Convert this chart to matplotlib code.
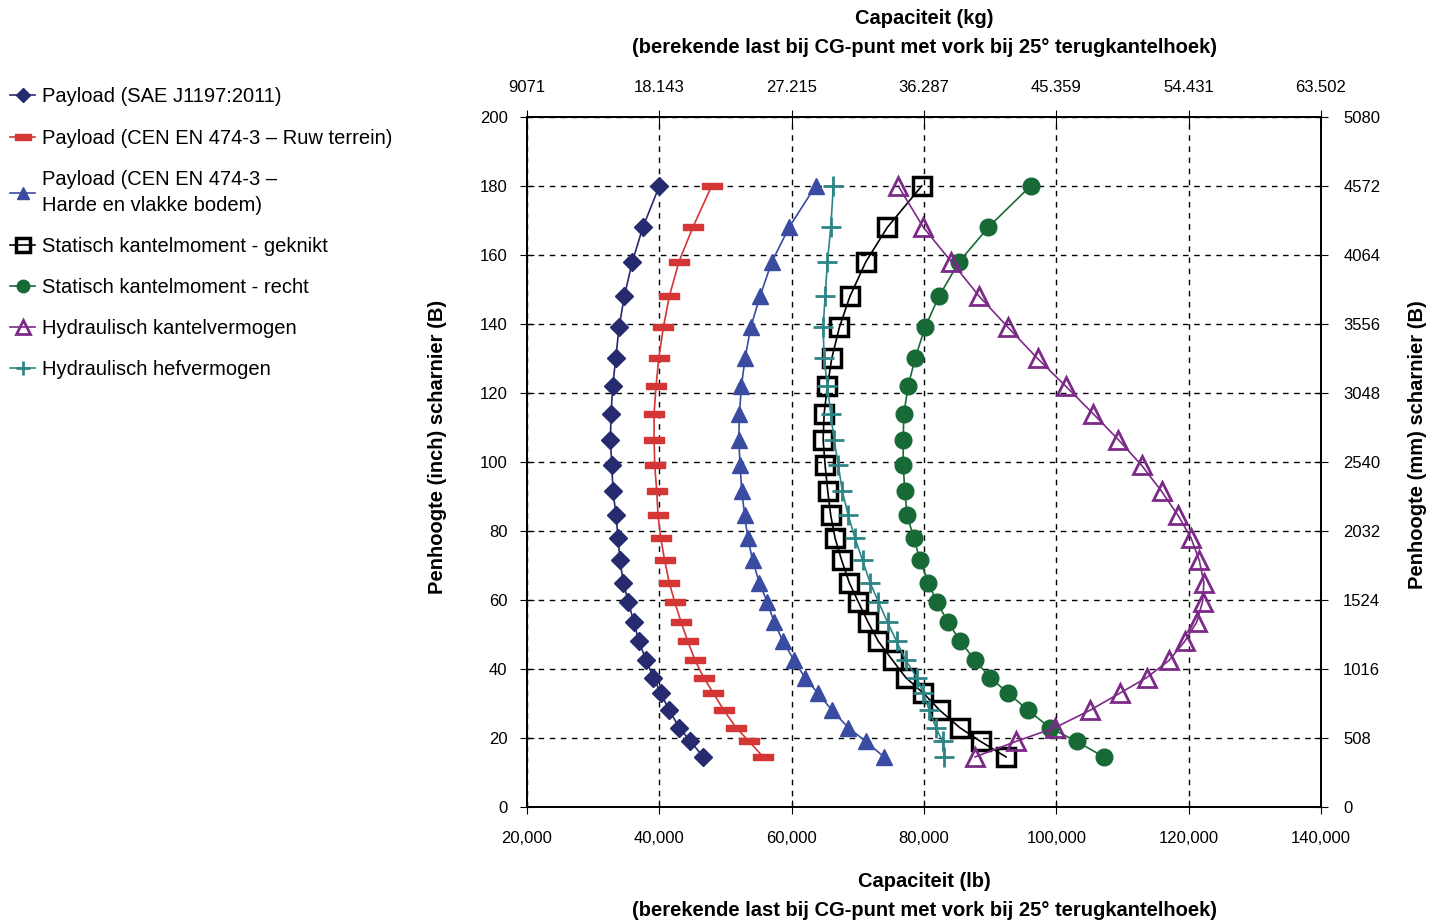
import numpy as np
import matplotlib.pyplot as plt
from matplotlib.ticker import FuncFormatter

plt.rcParams['font.family'] = ['Liberation Sans', 'DejaVu Sans']

# penhoogte (inch), shared by all series
hoogte = [180, 168, 158, 148, 139, 130, 122, 114, 106.5, 99, 91.5, 84.5, 78,
          71.5, 65, 59.5, 53.5, 48, 42.5, 37.5, 33, 28, 23, 19, 14.5]

sae = [40000, 37500, 35900, 34700, 33900, 33400, 32950, 32700, 32600, 32800,
       33000, 33450, 33750, 34050, 34550, 35300, 36150, 36900, 38000, 39100,
       40200, 41500, 43000, 44700, 46650]
cen_ruw = [47900, 45050, 42950, 41500, 40600, 39900, 39500, 39200, 39200, 39300,
           39600, 39800, 40200, 40800, 41500, 42300, 43300, 44300, 45400, 46700,
           48150, 49750, 51600, 53550, 55700]
cen_hard = [63600, 59600, 57000, 55200, 53800, 52950, 52400, 52100, 52000, 52200,
            52450, 52900, 53350, 54100, 55100, 56300, 57350, 58700, 60350, 62000,
            63950, 66100, 68550, 71200, 73950]
geknikt = [79650, 74450, 71200, 68800, 67200, 66050, 65400, 64900, 64750, 65050,
           65450, 65900, 66550, 67550, 68700, 70050, 71550, 73100, 75250, 77250,
           79900, 82400, 85400, 88550, 92400]
recht = [96100, 89700, 85300, 82250, 80150, 78650, 77600, 76950, 76850, 76850,
         77100, 77450, 78450, 79400, 80650, 81900, 83650, 85500, 87700, 90000,
         92700, 95750, 99000, 103050, 107200]
kantel = [76100, 79900, 84150, 88350, 92700, 97150, 101400, 105550, 109350, 112900,
          115900, 118400, 120350, 121600, 122300, 122100, 121200, 119400, 117050, 113650,
          109600, 105050, 99800, 93900, 87700]
hef = [66300, 65900, 65400, 65050, 64750, 64900, 65400, 65900, 66400, 67050,
       67650, 68550, 69550, 70700, 71850, 73100, 74500, 75850, 77250, 78900,
       79900, 80800, 81800, 82800, 83050]

lb_ticks = [20000, 40000, 60000, 80000, 100000, 120000, 140000]
kg_labels = ['9071', '18.143', '27.215', '36.287', '45.359', '54.431', '63.502']
inch_ticks = [0, 20, 40, 60, 80, 100, 120, 140, 160, 180, 200]
mm_labels = ['0', '508', '1016', '1524', '2032', '2540', '3048', '3556', '4064', '4572', '5080']

bar = [(-3, -1), (3, -1), (3, 1), (-3, 1), (-3, -1)]
titel = '(berekende last bij CG-punt met vork bij 25° terugkantelhoek)'

fig = plt.figure(figsize=(14.42, 9.21), dpi=100)
ax = fig.add_axes([0.3655, 0.1238, 0.5506, 0.7492])

ax.plot(sae, hoogte, color='#262a6e', marker='D', ms=9, lw=1.2,
        label='Payload (SAE J1197:2011)')
ax.plot(cen_ruw, hoogte, color='#d43535', marker=bar, ms=15, lw=1.2,
        label='Payload (CEN EN 474-3 – Ruw terrein)')
ax.plot(cen_hard, hoogte, color='#3a4ba2', marker='^', ms=11, lw=1.2,
        label='Payload (CEN EN 474-3 –\nHarde en vlakke bodem)')
ax.plot(geknikt, hoogte, color='black', marker='s', ms=13, mfc='none', mew=2.5, lw=1.2,
        label='Statisch kantelmoment - geknikt')
ax.plot(recht, hoogte, color='#176a36', marker='o', ms=12, lw=1.2,
        label='Statisch kantelmoment - recht')
ax.plot(kantel, hoogte, color='#7c2a87', marker='^', ms=13, mfc='none', mew=2, lw=1.2,
        label='Hydraulisch kantelvermogen')
ax.plot(hef, hoogte, color='#2f8586', marker='+', ms=14, mew=2, lw=1.2,
        label='Hydraulisch hefvermogen')

ax.set_xlim(20000, 140000)
ax.set_ylim(0, 200)
ax.set_xticks(lb_ticks)
ax.set_yticks(inch_ticks)
ax.xaxis.set_major_formatter(FuncFormatter(lambda v, p: f'{int(v):,}'))
ax.grid(True, color='black', linestyle=(0, (4, 4)), linewidth=1)
ax.tick_params(direction='inout', length=10, labelsize=12)
ax.tick_params(axis='x', pad=12)
ax.tick_params(axis='y', pad=9)
ax.set_xlabel('Capaciteit (lb)\n' + titel, fontsize=14.5, fontweight='bold',
              labelpad=19, linespacing=1.7)
ax.set_ylabel('Penhoogte (inch) scharnier (B)', fontsize=14.5, fontweight='bold')
ax.yaxis.set_label_coords(-0.1008, 0.522)

ax_top = ax.twiny()
ax_top.set_xlim(20000, 140000)
ax_top.set_xticks(lb_ticks)
ax_top.set_xticklabels(kg_labels)
ax_top.tick_params(direction='inout', length=10, labelsize=12, pad=11)
ax_top.set_xlabel('Capaciteit (kg)\n' + titel, fontsize=14.5, fontweight='bold',
                  labelpad=19, linespacing=1.7)

ax_right = ax.twinx()
ax_right.set_ylim(0, 200)
ax_right.set_yticks(inch_ticks)
ax_right.set_yticklabels(mm_labels)
ax_right.tick_params(direction='inout', length=10, labelsize=12, pad=11)
ax_right.set_ylabel('Penhoogte (mm) scharnier (B)', fontsize=14.5, fontweight='bold')
ax_right.yaxis.set_label_coords(1.1096, 0.525)

for a in (ax, ax_top, ax_right):
    for s in a.spines.values():
        s.set_linewidth(1.2)

handles, labels = ax.get_legend_handles_labels()
leg = fig.legend(handles, labels, loc='upper left', bbox_to_anchor=(0.007, 0.905),
                 frameon=False, fontsize=14.5, handlelength=1.25, handletextpad=0.35,
                 labelspacing=1.1, markerscale=0.75, borderpad=0, borderaxespad=0)
for t in leg.get_texts():
    t.set_linespacing(1.45)

fig.savefig('out.png', dpi=100)
